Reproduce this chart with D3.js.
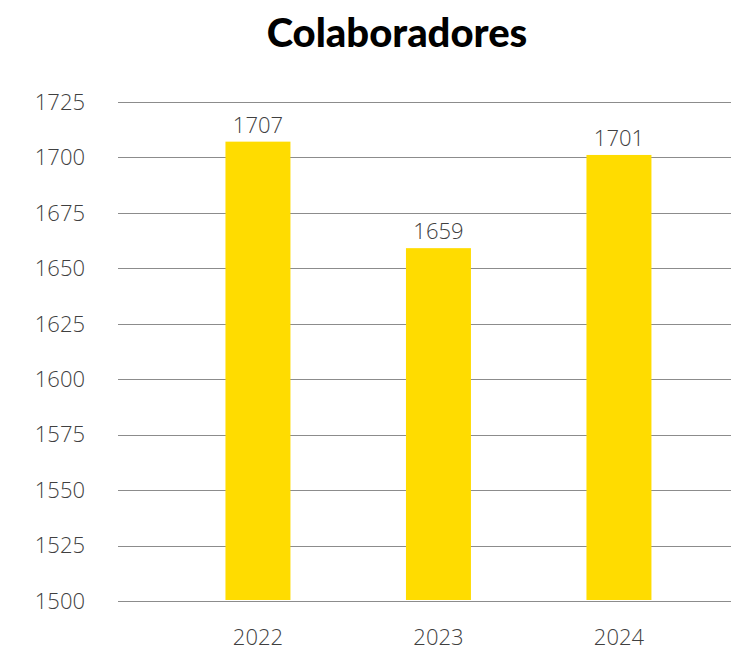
<!DOCTYPE html>
<html><head><meta charset="utf-8">
<script src="https://cdn.jsdelivr.net/npm/d3@7"></script>
<style>body{margin:0;background:#fff}</style>
</head><body>
<script>
const title = "Colaboradores";
const categories = ["2022", "2023", "2024"];
const values = [1707, 1659, 1701];
const yTicks = [1500, 1525, 1550, 1575, 1600, 1625, 1650, 1675, 1700, 1725];

const W = 731, H = 652;
const svg = d3.select("body").append("svg").attr("width", W).attr("height", H);

const y = d3.scaleLinear().domain([1500, 1725]).range([601, 101.7]);
const x = d3.scaleBand().domain(categories).range([167.7, 709.2]).paddingInner(0.64).paddingOuter(0.32);

const font = "'Open Sans', sans-serif";

// gridlines
svg.append("g").selectAll("line").data(yTicks).join("line")
  .attr("x1", 118).attr("x2", 731)
  .attr("y1", d => Math.round(y(d)) + 0.5).attr("y2", d => Math.round(y(d)) + 0.5)
  .attr("stroke", "#8c8c8c").attr("stroke-width", 1);

// y tick labels
svg.append("g").selectAll("text").data(yTicks).join("text")
  .attr("x", 85).attr("y", d => y(d)).attr("dy", "0.36em")
  .attr("text-anchor", "end")
  .style("font-family", font).style("font-weight", 300).style("font-size", "22px")
  .attr("fill", "#404040").text(d => d);

// bars
svg.append("g").selectAll("rect").data(values).join("rect")
  .attr("x", (d, i) => x(categories[i])).attr("width", x.bandwidth())
  .attr("y", d => y(d)).attr("height", d => y(1500) - 1 - y(d))
  .attr("fill", "#ffdc00");

// data labels
svg.append("g").selectAll("text").data(values).join("text")
  .attr("x", (d, i) => x(categories[i]) + x.bandwidth() / 2).attr("y", d => y(d) - 9)
  .attr("text-anchor", "middle")
  .style("font-family", font).style("font-weight", 300).style("font-size", "22px")
  .attr("fill", "#404040").text(d => d);

// x labels
svg.append("g").selectAll("text").data(categories).join("text")
  .attr("x", d => x(d) + x.bandwidth() / 2).attr("y", 645)
  .attr("text-anchor", "middle")
  .style("font-family", font).style("font-weight", 300).style("font-size", "22px")
  .attr("fill", "#404040").text(d => d);

// title
svg.append("text").attr("x", 397).attr("y", 47).attr("text-anchor", "middle")
  .style("font-family", "Lato, sans-serif").style("font-weight", 900).style("font-size", "40px")
  .attr("fill", "#000").text(title);
</script>
</body></html>
